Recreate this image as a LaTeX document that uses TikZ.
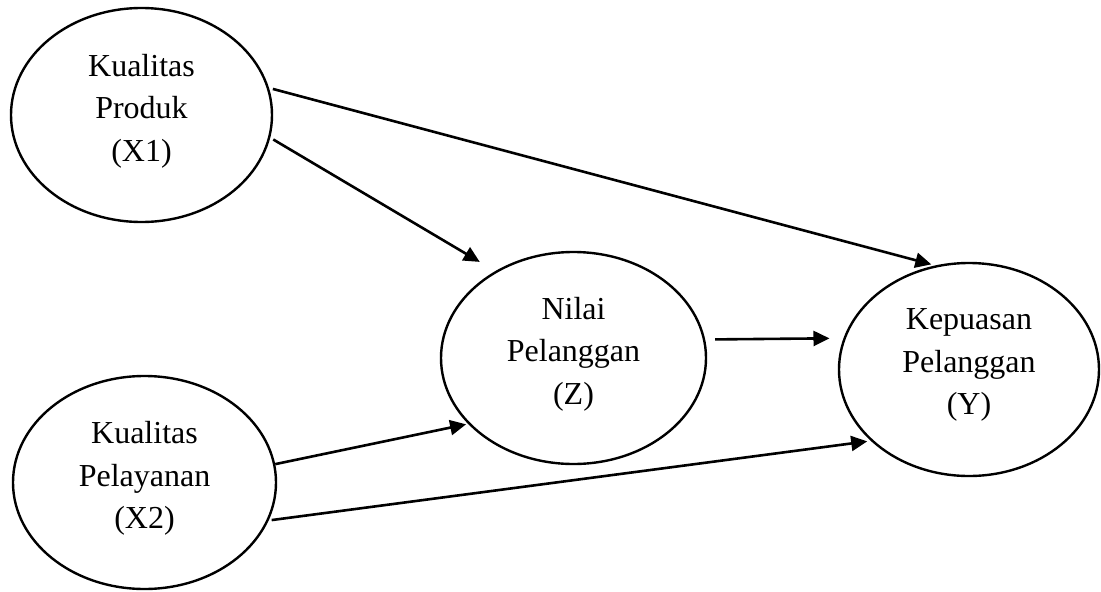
\documentclass[tikz,border=0pt]{standalone}
\usepackage{fontspec}
\setmainfont{Liberation Serif}
\usetikzlibrary{arrows.meta,shapes.geometric}

\begin{document}
\begin{tikzpicture}[x=1pt,y=-1pt,
  var/.style={ellipse,draw,line width=2.4pt,inner sep=0pt,align=center,
    text depth=15pt,font=\fontsize{32}{42.5}\selectfont},
  link/.style={line width=2.6pt,-{Triangle[length=16pt,width=15pt]}}]
  \useasboundingbox (0,0) rectangle (1101,592);

  % latent variables
  \node[var,minimum width=261pt,minimum height=214pt] (x1) at (141.5,115)
    {Kualitas\\Produk\\(X1)};
  \node[var,minimum width=263pt,minimum height=213pt] (x2) at (144.5,482.5)
    {Kualitas\\Pelayanan\\(X2)};
  \node[var,minimum width=265pt,minimum height=212pt] (z) at (573.5,358)
    {Nilai\\Pelanggan\\(Z)};
  \node[var,minimum width=260pt,minimum height=213pt] (y) at (969,369.5)
    {Kepuasan\\Pelanggan\\(Y)};

  % paths between the variables
  \draw[link,shorten <=4pt,shorten >=4pt] (x1.12) -- (y.108);
  \draw[link,shorten <=3.5pt,shorten >=18pt] (x1.-10) -- (z.132);
  \draw[link,shorten <=10pt,shorten >=14pt] (z.8) -- (y.166);
  \draw[link,shorten >=2pt] (x2.8) -- (z.-148);
  \draw[link,shorten <=3pt,shorten >=3.6pt] (x2.-17) -- (y.-144);
\end{tikzpicture}
\end{document}
